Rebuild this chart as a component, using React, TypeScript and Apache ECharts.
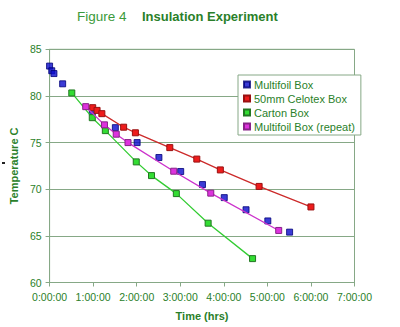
import React, { useEffect, useRef } from "react";
import * as echarts from "echarts";

// time in hours, temperature in °C
const multifoilX = [0, 0.05, 0.1, 0.3, 0.98, 1.51, 2.01, 2.51, 3.01, 3.51, 4.01, 4.51, 5.01, 5.51];
const multifoilY = [83.2, 82.7, 82.4, 81.3, 78.3, 76.6, 75.0, 73.4, 71.9, 70.5, 69.1, 67.8, 66.6, 65.4];

const celotexX = [0.99, 1.09, 1.2, 1.7, 1.97, 2.76, 3.38, 3.92, 4.81, 6.0];
const celotexY = [78.74, 78.45, 78.1, 76.65, 76.05, 74.46, 73.23, 72.07, 70.3, 68.1];

const cartonX = [0.51, 0.98, 1.28, 1.99, 2.34, 2.91, 3.64, 4.66];
const cartonY = [80.32, 77.67, 76.28, 72.93, 71.46, 69.53, 66.36, 62.56];

const repeatX = [0.83, 1.26, 1.53, 1.8, 2.85, 3.7, 5.26];
const repeatY = [78.85, 76.9, 75.9, 75.0, 71.93, 69.58, 65.58];

const seriesNames = ["Multifoil Box", "50mm Celotex Box", "Carton Box", "Multifoil Box (repeat)"];
const xTicks = [0, 1, 2, 3, 4, 5, 6, 7];
const yTicks = [60, 65, 70, 75, 80, 85];

const pairs = (xs: number[], ys: number[]) => xs.map((x, i) => [x, ys[i]]);

const FONT = "Liberation Sans, Arial, sans-serif";
const GREEN_TXT = "#2a7f2a";
const GRID = "#86a886";

export default function App() {
  const ref = useRef<HTMLDivElement>(null);
  useEffect(() => {
    const chart = echarts.init(ref.current!, null, { renderer: "svg" });
    const mk = (fill: string, border: string) => ({ color: fill, borderColor: border, borderWidth: 1 });
    chart.setOption({
      animation: false,
      backgroundColor: "#ffffff",
      textStyle: { fontFamily: FONT },
      graphic: [
        { type: "text", left: 77, top: 9, style: { text: "Figure 4", font: `13.5px ${FONT}`, fill: "#3a9a3a" } },
        { type: "text", left: 142, top: 10, style: { text: "Insulation Experiment", font: `bold 13px ${FONT}`, fill: "#2a7f2a" } },
        { type: "rect", left: 2, top: 162, shape: { width: 3, height: 2 }, style: { fill: "#222" } },
      ],
      grid: { left: 46.7, top: 49.3, right: 45.5, bottom: 44.5, show: true, borderColor: GRID, borderWidth: 1, backgroundColor: "transparent" },
      legend: {
        orient: "vertical",
        left: 238,
        top: 75,
        width: 111,
        padding: [3, 6, 2, 5],
        itemWidth: 6,
        itemHeight: 6,
        itemGap: 1,
        backgroundColor: "#ffffff",
        borderColor: GRID,
        borderWidth: 1,
        borderRadius: 0,
        textStyle: { fontFamily: FONT, fontSize: 11, color: GREEN_TXT, lineHeight: 13, padding: [0, 0, 0, -1] },
        data: seriesNames.map((n) => ({ name: n, icon: "rect" })),
      },
      xAxis: {
        type: "value",
        min: 0,
        max: 7,
        interval: 1,
        name: "Time (hrs)",
        nameLocation: "middle",
        nameGap: 28,
        nameTextStyle: { fontFamily: FONT, fontSize: 11, fontWeight: "bold", color: GREEN_TXT },
        axisLine: { show: true, lineStyle: { color: GRID, width: 1 } },
        axisTick: { show: true, length: 4, lineStyle: { color: GRID } },
        axisLabel: { fontFamily: FONT, fontSize: 10.5, color: GREEN_TXT, margin: 9, formatter: (v: number) => (xTicks.includes(v) ? `${v}:00:00` : "") },
        splitLine: { show: false },
      },
      yAxis: {
        type: "value",
        min: 60,
        max: 85,
        interval: 5,
        name: "Temperature C",
        nameLocation: "middle",
        nameGap: 25,
        nameTextStyle: { fontFamily: FONT, fontSize: 11, fontWeight: "bold", color: GREEN_TXT },
        axisLine: { show: true, lineStyle: { color: GRID, width: 1 } },
        axisTick: { show: true, length: 4, lineStyle: { color: GRID } },
        axisLabel: { fontFamily: FONT, fontSize: 10.5, color: GREEN_TXT, margin: 8, formatter: (v: number) => (yTicks.includes(v) ? String(v) : "") },
        splitLine: { show: true, lineStyle: { color: GRID, width: 1 } },
      },
      series: [
        {
          name: seriesNames[1], type: "line", data: pairs(celotexX, celotexY), symbol: "rect", symbolSize: 6, showAllSymbol: true,
          lineStyle: { color: "#cc2a2a", width: 1.3 }, itemStyle: mk("#ee1c1c", "#991111"), z: 3,
        },
        {
          name: seriesNames[2], type: "line", data: pairs(cartonX, cartonY), symbol: "rect", symbolSize: 6, showAllSymbol: true,
          lineStyle: { color: "#33cc33", width: 1.3 }, itemStyle: mk("#33dd33", "#227722"), z: 3,
        },
        {
          name: seriesNames[3], type: "line", data: pairs(repeatX, repeatY), symbol: "rect", symbolSize: 6, showAllSymbol: true,
          lineStyle: { color: "#cc33cc", width: 1.3 }, itemStyle: mk("#dd33dd", "#882288"), z: 4,
        },
        {
          name: seriesNames[0], type: "scatter", data: pairs(multifoilX, multifoilY), symbol: "rect", symbolSize: 6,
          itemStyle: mk("#0a0acc", "#000077"), z: 2,
        },
      ],
    });
    return () => chart.dispose();
  }, []);
  return <div ref={ref} style={{ position: "fixed", left: 0, top: 0, width: 400, height: 327 }} />;
}
